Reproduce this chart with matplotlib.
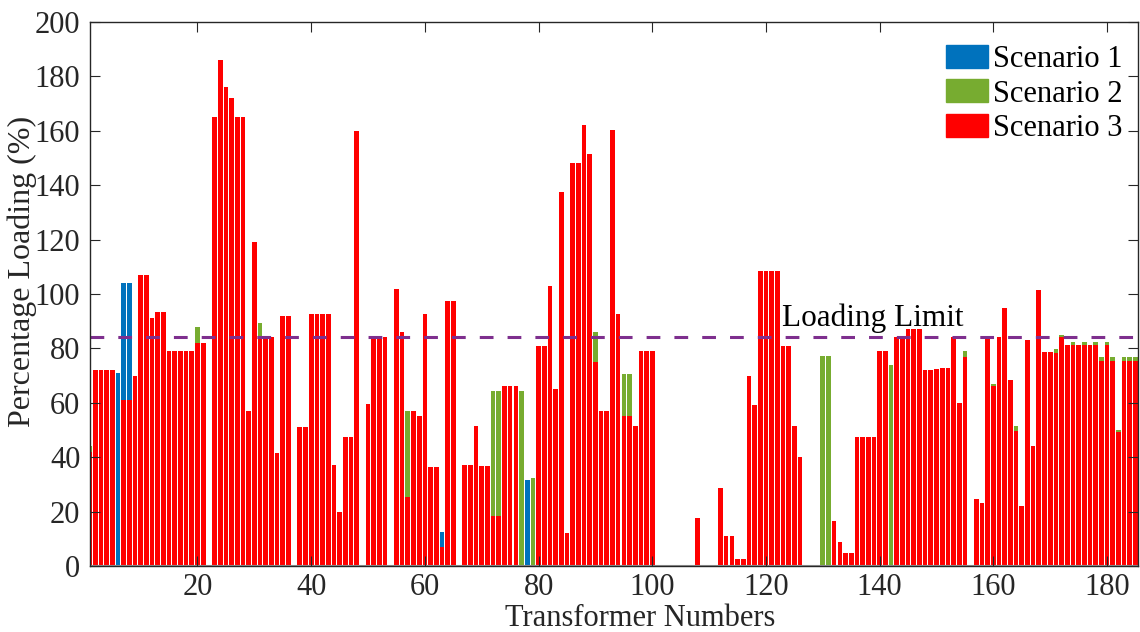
import numpy as np
import matplotlib
matplotlib.use('Agg')
import matplotlib.pyplot as plt
from matplotlib.patches import Patch

# data
transformers = np.arange(1, 186)

# scenario 3 (red), one value per transformer
scenario3 = [
    42, 72, 72, 72, 72, 0, 61, 61, 70, 107,
    107, 91, 93.5, 93.5, 79, 79, 79, 79, 79, 82,
    82, 0, 165, 186, 176, 172, 165, 165, 57, 119,
    84, 84, 84, 41.5, 92, 92, 0, 51, 51, 92.5,
    92.5, 92.5, 92.5, 37, 20, 47.5, 47.5, 160, 0, 59.5,
    84, 84, 84, 0, 102, 86, 25.5, 57, 55, 92.5,
    36.3, 36.3, 7, 97.5, 97.5, 0, 37, 37, 51.5, 36.7,
    36.7, 18.5, 18.5, 66.2, 66.2, 66.2, 0, 0, 0, 81,
    81, 103, 65, 137.5, 12, 148.3, 148.3, 162, 151.6, 75,
    57, 57, 160.3, 92.6, 55, 55, 51.4, 79, 79, 79,
    0, 0, 0, 0, 0, 0, 0, 17.5, 0, 0,
    0, 28.7, 11, 11, 2.6, 2.6, 70, 59, 108.6, 108.6,
    108.6, 108.6, 81, 81, 51.6, 40, 0, 0, 0, 0,
    0, 16.4, 8.7, 4.7, 4.7, 47.5, 47.5, 47.5, 47.5, 79,
    79, 0, 84, 84, 87, 87, 87, 72, 72, 72.3,
    72.7, 72.7, 84, 60, 77, 0, 24.6, 23.1, 84, 66,
    84, 95, 68.4, 49.7, 22, 83, 44, 101.6, 78.8, 78.8,
    78.2, 84, 81.4, 81.1, 81.4, 81.1, 81.4, 81.1, 75.5, 81.1,
    75.5, 49.3, 75.5, 75.5, 75.5,
]

# scenario 2 (green), only where it shows above scenario 3
scenario2_idx = [1, 20, 31, 57, 72, 73, 77, 79, 90, 95, 96, 130, 131, 142,
                 155, 160, 164, 171, 172, 174, 176, 178, 179, 180, 181, 182,
                 183, 184, 185]
scenario2_val = [44, 88, 89.5, 57, 64.5, 64.5, 64.2, 32.2, 86, 70.5, 70.5,
                 77.2, 77.2, 73.7, 79, 67, 51.5, 79.6, 85, 82.2, 82.2, 82.2,
                 77, 82.2, 77, 50, 77, 77, 77]

# scenario 1 (blue), only where it shows
scenario1_idx = [6, 7, 8, 63, 78]
scenario1_val = [71, 104, 104, 12.5, 31.6]

loading_limit = 84

s2 = np.zeros(len(transformers))
s2[np.array(scenario2_idx) - 1] = scenario2_val
s1 = np.zeros(len(transformers))
s1[np.array(scenario1_idx) - 1] = scenario1_val

blue = '#0072BD'
green = '#77AC30'
red = '#FF0000'
purple = '#7E2F8E'
txt = '#262626'

plt.rcParams['font.family'] = ['Liberation Serif', 'DejaVu Serif']
plt.rcParams['font.size'] = 22

fig = plt.figure(figsize=(11.4, 6.32), dpi=100)
ax = fig.add_axes([0.079, 0.1044, 0.919, 0.861])

w = 0.82
ax.bar(transformers, s1, width=w, color=blue, linewidth=0)
ax.bar(transformers, s2, width=w, color=green, linewidth=0)
ax.bar(transformers, scenario3, width=w, color=red, linewidth=0)
ax.axhline(0, color='#999999', lw=1.5, zorder=1)

ax.axhline(loading_limit, color=purple, lw=2.2, dashes=(4.5, 4.6))
ax.text(122.9, 91, 'Loading Limit', ha='left', va='center', color='black',
        fontsize=22.5)

ax.set_xlim(1.1, 185.4)
ax.set_ylim(0, 200)
ax.set_xticks(range(20, 181, 20))
ax.set_yticks(range(0, 201, 20))
ax.tick_params(direction='in', length=7.5, width=0.8, top=True, right=True,
               colors=txt, labelcolor=txt, pad=7)
ax.tick_params(axis='x', pad=5)
for s in ax.spines.values():
    s.set_color(txt)
    s.set_linewidth(1)

ax.set_xlabel('Transformer Numbers', color=txt)
ax.xaxis.set_label_coords(0.525, -0.07)
ax.set_ylabel('Percentage Loading (%)', color=txt, fontsize=23)
ax.yaxis.set_label_coords(-0.0506, 0.542)

handles = [Patch(color=blue), Patch(color=green), Patch(color=red)]
ax.legend(handles, ['Scenario 1', 'Scenario 2', 'Scenario 3'], loc='upper right',
          bbox_to_anchor=(1.0, 0.986), frameon=False, handlelength=1.4,
          handleheight=0.78, labelspacing=0.18, handletextpad=0.15,
          borderaxespad=0.3, borderpad=0.2)

fig.savefig('out.png', dpi=100)
